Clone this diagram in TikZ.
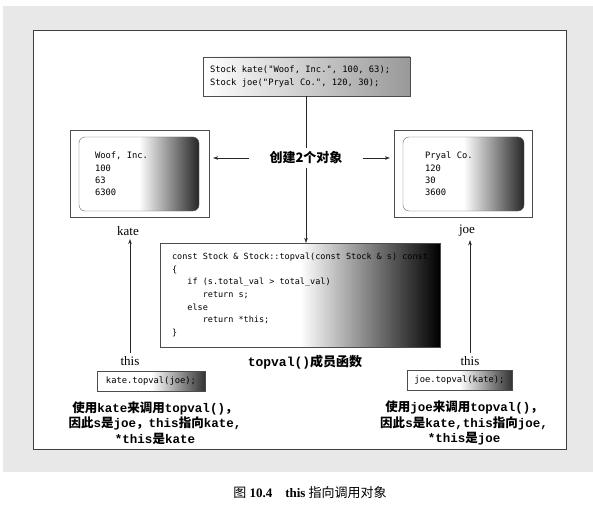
\documentclass[tikz,border=0pt]{standalone}
\usepackage{fontspec}
\setmainfont{Liberation Serif}
\setmonofont{Liberation Mono}
\newfontfamily\cjk{Noto Sans CJK SC}
\newfontfamily\codefont{DejaVu Sans Mono}
\usetikzlibrary{arrows.meta}
\newcommand{\tb}[1]{{\ttfamily\bfseries #1}}
\newcommand{\codespace}{\spaceskip=\fontcharwd\font`\x\relax\xspaceskip=\spaceskip}

\begin{document}
\begin{tikzpicture}[x=1pt, y=-1pt,
    codebox/.style={draw=black!70, inner ysep=3pt, align=flush left, font=\codefont\fontsize{8.8}{12.3}\selectfont, execute at begin node=\codespace},
    topbox/.style={codebox, left color=white, right color=black!40},
    objframe/.style={draw=black!70, fill=white, minimum width=139pt, minimum height=87pt},
    objbox/.style={codebox, rounded corners=6pt, draw=black!60, left color=white, right color=black!85, middle color=white, minimum height=74pt},
    callbox/.style={codebox, left color=white, right color=black!80, middle color=white, inner xsep=6pt, minimum height=20pt},
    lbl/.style={font=\fontsize{13}{15}\selectfont},
    cnlbl/.style={font=\cjk\bfseries\fontsize{13}{15}\selectfont},
    desc/.style={align=center, font=\cjk\bfseries\fontsize{12.5}{15.5}\selectfont},
    arr/.style={-{Stealth[length=5pt,width=3.5pt]}, black!85}]
  \useasboundingbox (0,0) rectangle (593,513);
  \fill[black!9] (3,6) rectangle (593,472);
  \draw[draw=black!75, line width=0.8pt, fill=white] (33,30) rectangle (566,449);

  \node[topbox, text width=193pt, inner xsep=7pt, minimum height=39pt] (decl) at (306.5,76.5)
    {Stock kate("Woof, Inc.", 100, 63);\\Stock joe("Pryal Co.", 120, 30);};
  \node[objframe] (kate) at (139.5,173.5) {};
  \node[objbox, text width=88pt, inner xsep=16pt] (kateval) at (139,174) {Woof, Inc.\\100\\63\\6300};
  \node[objframe, minimum width=138pt] (joe) at (463,173.5) {};
  \node[objbox, text width=77pt, inner xsep=22pt] (joeval) at (463.5,174) {Pryal Co.\\120\\30\\3600};
  \node[cnlbl, inner xsep=20pt] (create) at (306,158) {创建2个对象};
  \node[codebox, left color=white, right color=black, middle color=white, minimum width=280pt, minimum height=104pt,
        font=\codefont\fontsize{8.5}{12.7}\selectfont] (topval) at (300,295)
    {const Stock \& Stock::topval(const Stock \& s) const\\
     \{\\
     \phantom{xxx}if (s.total\_val > total\_val)\\
     \phantom{xxxxxx}return s;\\
     \phantom{xxx}else\\
     \phantom{xxxxxx}return *this;\\
     \}};
  \node[cnlbl] (fname) at (305,362) {\tb{topval()}成员函数};

  \node[lbl] (katelbl) at (128,231) {kate};
  \node[lbl] (joelbl) at (467,231) {joe};
  \node[lbl] (thisA) at (130,361) {this};
  \node[lbl] (thisB) at (470,361) {this};
  \node[callbox, minimum width=108pt] (callA) at (151,381) {kate.topval(joe);};
  \node[callbox, minimum width=105pt] (callB) at (459.5,380) {joe.topval(kate);};
  \node[desc] (descA) at (155,423)
    {使用\tb{kate}来调用\tb{topval()}，\\因此\tb{s}是\tb{joe}，\tb{this}指向\tb{kate,}\\\tb{*this}是\tb{kate}};
  \node[desc] (descB) at (464,423)
    {使用\tb{joe}来调用\tb{topval()}，\\因此\tb{s}是\tb{kate,this}指向\tb{joe,}\\\tb{*this}是\tb{joe}};

  \draw[black!85] (decl.south -| create.north) -- (create.north);
  \draw[arr] (create.south) -- (create.south |- topval.north);
  \draw[arr, shorten >=4pt] (create.west) -- (create.west -| kate.east);
  \draw[arr, shorten >=4pt] (create.east) -- (create.east -| joe.west);
  \draw[arr] (thisA.north) -- (thisA.north |- katelbl.south);
  \draw[arr] (thisB.north) -- (thisB.north |- joelbl.south);

  \node[font=\fontsize{13}{15}\selectfont] (caption) at (310,493)
    {{\cjk 图} \textbf{10.4}\quad\textbf{this} {\cjk 指向调用对象}};
\end{tikzpicture}
\end{document}
